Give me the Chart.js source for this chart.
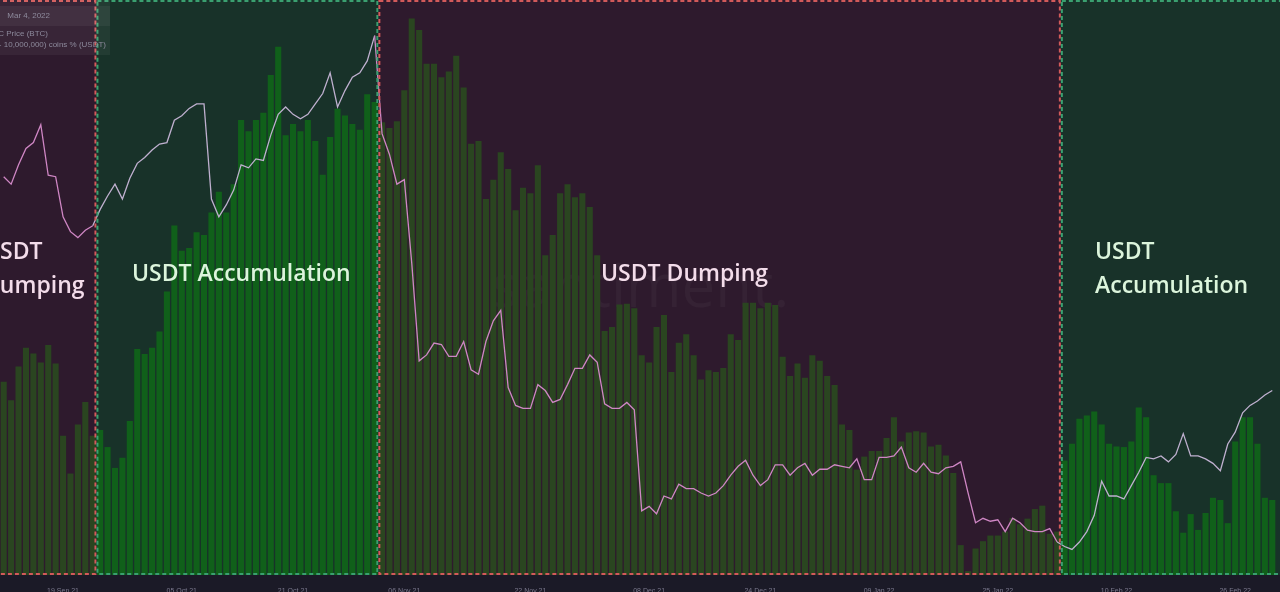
<!DOCTYPE html>
<html><head><meta charset="utf-8">
<script src="https://cdn.jsdelivr.net/npm/chart.js@4"></script>
<style>html,body{margin:0;padding:0;background:#1b1a27;overflow:hidden}#wrap{width:1280px;height:592px}</style>
</head><body><div id="wrap"><canvas id="c"></canvas></div>
<script>
// Supply distribution (1M-10M coins) % of USDT, one bar per day
const supplyPct = [
34.3,31,37,40.3,39.3,37.7,40.8,37.5,24.7,18,26.7,30.7,24.7,
25.7,22.7,19,20.8,27.3,40.1,39.2,40.3,43.2,50.3,62,57.5,58,60.8,60.3,64.3,68,64.3,69.3,80.7,78.7,80.7,82,88.7,93.7,78,80,78.7,80.7,77,71,77.7,82.7,81.5,80,79,85.3,83.9,
80.3,79.3,80.5,86,98.7,96.7,90.7,90.7,88.3,89.3,92.1,86.5,76.5,77,66.7,70.1,75,72,64.7,68.7,67.7,72.7,56.7,60.3,67.7,69.3,67,67.7,65.3,56.7,43.3,44,48,48.1,47.3,39,37.7,44,46.1,36,41.2,42.7,39,34.7,36.3,36,36.7,42.7,41.7,48.3,48.3,47.3,48.3,47.9,38.7,35.3,37.5,35,39,38,35.3,
33.7,26.7,25.7,18.7,21,22,22,24.3,28,23.7,25.3,25.5,25.3,22.8,23.1,21.2,18.1,5.3,0.7,4.7,6,7,7,7.7,10.1,9,10,11.7,12.3,7.3,7.7,
20.3,23.3,27.7,28.3,29,26.7,23.3,22.8,22.7,23.7,29.7,28,17.7,16.3,16.3,11.3,7.5,10.8,8,11,13.7,13.3,9.2,23.7,28,28,23.3,13.7,13.3
];
// BTC price, thousands USD
const btcPrice = [
58.7,58.2,59.5,60.6,61.0,62.2,58.8,58.7,56.0,55.0,54.6,55.1,55.4,
56.5,57.4,58.2,57.2,58.6,59.6,60.0,60.5,60.9,61.0,62.5,62.8,63.3,63.6,63.6,57.2,56.0,56.8,57.8,59.5,59.3,59.9,59.8,61.5,62.9,63.4,62.9,62.6,62.9,63.6,64.3,65.7,63.4,64.5,65.4,65.7,66.5,68.2,
61.6,60.2,58.2,58.5,52.9,46.3,46.7,47.5,47.4,46.6,46.6,47.6,45.7,45.4,47.6,49.0,49.7,44.5,43.3,43.1,43.1,44.7,44.3,43.5,43.7,44.7,45.8,45.8,46.7,46.2,43.4,43.1,43.1,43.5,43.0,36.2,36.5,36.0,37.2,37.0,38.0,37.7,37.7,37.4,37.2,37.4,37.9,38.6,39.2,39.6,38.6,37.9,38.3,39.3,39.3,38.6,39.1,39.4,38.6,39.0,39.0,
39.3,39.2,39.1,39.7,38.3,38.3,39.8,39.8,39.9,40.5,39.1,38.8,39.4,38.8,38.7,39.1,39.2,39.5,37.4,35.4,35.7,35.5,35.6,34.8,35.7,35.4,34.9,34.8,34.8,35.0,34.1,
33.8,33.6,34.1,34.8,35.9,38.2,37.2,37.2,37.0,37.9,38.8,39.8,39.7,39.9,39.5,40.0,41.4,39.9,39.9,39.7,39.4,38.9,40.7,41.5,42.8,43.3,43.6,44.0,44.3,44.5
];
const categories = supplyPct.map((_, i) => i);
const tickIndex = [8,24,39,54,71,87,102,118,134,150,166];
const tickLabels = ["19 Sep 21","05 Oct 21","21 Oct 21","06 Nov 21","22 Nov 21","08 Dec 21","24 Dec 21","09 Jan 22","25 Jan 22","10 Feb 22","26 Feb 22"];
const regionFrom = [0,13,51,143];
const regionTo = [12,50,142,172];
const regionType = ["dump","acc","dump","acc"];
const regionText = [["USDT","Dumping"],["USDT Accumulation"],["USDT Dumping"],["USDT","Accumulation"]];

function regionOf(i){for(let r=0;r<regionFrom.length;r++){if(i>=regionFrom[r]&&i<=regionTo[r])return regionType[r];}return "dump";}

const bgPlugin = {
  id:'regions',
  beforeDatasetsDraw(chart){
    const {ctx, chartArea:a, scales:{x}} = chart;
    const step = x.getPixelForValue(1)-x.getPixelForValue(0);
    ctx.save();
    for(let r=0;r<regionFrom.length;r++){
      const l = r===0 ? a.left : x.getPixelForValue(regionFrom[r]) - step/2;
      const rt = x.getPixelForValue(regionTo[r]) + step/2;
      ctx.fillStyle = regionType[r]==='dump' ? '#2e1a2d' : '#183229';
      ctx.fillRect(l, a.top, rt-l, a.bottom-a.top);
    }
    ctx.font = '60px "Open Sans"'; ctx.fillStyle='rgba(255,255,255,0.035)';
    ctx.textAlign='center'; ctx.textBaseline='middle';
    ctx.fillText('santiment.', 640, 290);
    ctx.restore();
  },
  afterDatasetsDraw(chart){
    const {ctx, chartArea:a, scales:{x}} = chart;
    const step = x.getPixelForValue(1)-x.getPixelForValue(0);
    ctx.save();
    for(let r=0;r<regionFrom.length;r++){
      const l = r===0 ? a.left-5 : x.getPixelForValue(regionFrom[r]) - step/2;
      const rt = x.getPixelForValue(regionTo[r]) + step/2;
      const dump = regionType[r]==='dump';
      ctx.strokeStyle = dump ? '#d35a5a' : '#3aa070';
      ctx.lineWidth = 2; ctx.setLineDash([4,3]);
      ctx.strokeRect(l+1, a.top+1, rt-l-2, a.bottom-a.top-2);
      ctx.setLineDash([]);
      ctx.fillStyle = dump ? '#f3dcea' : '#dcf5dc';
      ctx.font = '600 23px "Open Sans"'; ctx.textBaseline='middle'; ctx.textAlign='left';
      const lines = regionText[r];
      let tx, ty;
      if(r===0){tx=-17;ty=252;}
      else if(r===1){tx=132;ty=274;}
      else if(r===2){tx=601;ty=274;}
      else {tx=1095;ty=252;}
      lines.forEach((t,k)=>ctx.fillText(t, tx, ty+k*34));
    }
    ctx.fillStyle='rgba(255,255,255,0.05)'; ctx.fillRect(0,0,110,55);
    ctx.fillStyle='rgba(255,255,255,0.05)'; ctx.fillRect(0,6,110,20);
    ctx.fillStyle='#8d8a9c'; ctx.font='8px "Liberation Sans"'; ctx.textAlign='right';
    ctx.fillText('Mar 4, 2022', 50, 16);
    ctx.fillText('BTC Price (BTC)', 48, 34);
    ctx.fillText('Supply Distribution (1,000,000 - 10,000,000) coins % (USDT)', 106, 45);
    ctx.restore();
  }
};

new Chart(document.getElementById('c'), {
  data:{
    labels: categories,
    datasets:[
      {type:'line', data: btcPrice, yAxisID:'yp', borderWidth:1.3, pointRadius:0, tension:0,
       borderColor:'#c982c0',
       segment:{borderColor: c => regionOf(c.p1DataIndex)==='acc' ? '#bfb0cf' : '#cf86c4'}, order:0},
      {type:'bar', data: supplyPct, yAxisID:'ys', barPercentage:0.82, categoryPercentage:1,
       backgroundColor: supplyPct.map((_,i)=>regionOf(i)==='acc' ? '#10601a' : '#2a4520'), order:1}
    ]
  },
  options:{
    responsive:true, maintainAspectRatio:false, animation:false,
    layout:{padding:{left:0,right:4,top:0,bottom:0}},
    plugins:{legend:{display:false}, tooltip:{enabled:false}},
    scales:{
      x:{grid:{display:false}, border:{display:false}, offset:true,
         afterFit(s){s.height=17;},
         ticks:{autoSkip:false, maxRotation:0, color:'#7a788c', font:{size:7, family:'Liberation Sans'}, padding:4,
           callback:(v)=>{const k=tickIndex.indexOf(v);return k>=0?tickLabels[k]:null;}}},
      ys:{display:false, min:0, max:102},
      yp:{display:false, min:31.88, max:70.6}
    }
  },
  plugins:[bgPlugin]
});
</script></body></html>
